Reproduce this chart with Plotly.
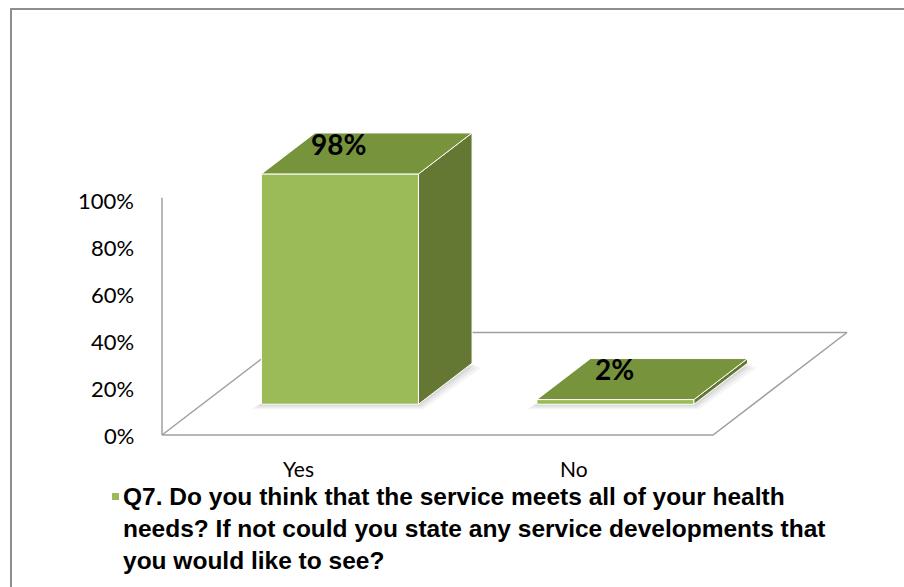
import plotly.graph_objects as go

# ---- data ----
categories = ["Yes", "No"]
values = [0.98, 0.02]
value_labels = ["98%", "2%"]
tick_values = [0, 0.2, 0.4, 0.6, 0.8, 1.0]
tick_labels = ["0%", "20%", "40%", "60%", "80%", "100%"]
legend_lines = [
    "Q7. Do you think that the service meets all of your health",
    "needs? If not could you state any service developments that",
    "you would like to see?",
]

# ---- styling ----
W, H = 904, 587
FRONT = "#9BBB59"
TOP = "#77933C"
SIDE = "#657833"
AXIS_GREY = "#A0A0A0"

# oblique projection: depth d in [0, 1] shifts right and up
DEPTH_X = 0.4864
DEPTH_Y = 0.4362
BAR_W = 0.57
D_FRONT, D_BACK = 0.30, 0.70
N = len(categories)


def proj(x, y, d):
    return x + d * DEPTH_X, y + d * DEPTH_Y


def poly(points, color, line_color="white", width=1.0, opacity=1.0):
    xs, ys = zip(*(proj(*p) for p in points))
    xs = list(xs) + [xs[0]]
    ys = list(ys) + [ys[0]]
    return go.Scatter(x=xs, y=ys, mode="lines", fill="toself", fillcolor=color,
                      line=dict(color=line_color, width=width), opacity=opacity,
                      hoverinfo="skip", showlegend=False)


fig = go.Figure()

# floor outline and the vertical value wall line
floor = [(0, 0, 0), (N, 0, 0), (N, 0, 1), (0, 0, 1), (0, 0, 0)]
fx, fy = zip(*(proj(*p) for p in floor))
fig.add_trace(go.Scatter(x=fx, y=fy, mode="lines", line=dict(color=AXIS_GREY, width=1.5),
                         hoverinfo="skip", showlegend=False))
fig.add_trace(go.Scatter(x=[0, 0], y=[0, 1.01], mode="lines",
                         line=dict(color=AXIS_GREY, width=1.5),
                         hoverinfo="skip", showlegend=False))

# bars as boxes
for i, (cat, v, lab) in enumerate(zip(categories, values, value_labels)):
    c = i + 0.5
    x0, x1 = c - BAR_W / 2, c + BAR_W / 2
    # soft shadow under the front/right base
    for k, op in enumerate([0.10, 0.08, 0.06]):
        s = 0.006 * (k + 1)
        fig.add_trace(poly([(x0 - s * 2, -s * 1.2, D_FRONT), (x1 + s, -s * 1.2, D_FRONT),
                            (x1 + s * 2, -s, D_BACK), (x0, -s, D_BACK)],
                           "#555555", line_color="rgba(0,0,0,0)", width=0, opacity=op))
    # front face
    fig.add_trace(poly([(x0, 0, D_FRONT), (x1, 0, D_FRONT), (x1, v, D_FRONT), (x0, v, D_FRONT)], FRONT))
    # right side face
    fig.add_trace(poly([(x1, 0, D_FRONT), (x1, 0, D_BACK), (x1, v, D_BACK), (x1, v, D_FRONT)], SIDE))
    # top face
    fig.add_trace(poly([(x0, v, D_FRONT), (x1, v, D_FRONT), (x1, v, D_BACK), (x0, v, D_BACK)], TOP))

    # value label on the top face
    lx, _ = proj(c, v, D_FRONT)
    _, ly = proj(c, v, D_FRONT + 0.74 * (D_BACK - D_FRONT))
    fig.add_annotation(x=lx, y=ly, xshift=-1, text=f"<b>{lab}</b>", showarrow=False,
                       font=dict(family="Lato", size=28, color="black"),
                       xanchor="center", yanchor="middle")

    # category label
    fig.add_annotation(x=c, y=0, yshift=-33, xshift=-1, text=cat, showarrow=False,
                       font=dict(family="Lato", size=21, color="black"),
                       xanchor="center", yanchor="middle")

# value-axis tick labels
for tv, tl in zip(tick_values, tick_labels):
    fig.add_annotation(x=0, y=tv, xshift=-26, text=tl, showarrow=False,
                       font=dict(family="Lato", size=22, color="black"),
                       xanchor="right", yanchor="middle")

# legend: marker square plus bold wrapped text
fig.add_shape(type="rect", xref="paper", yref="paper",
              x0=112 / W, x1=119 / W, y0=1 - 500 / H, y1=1 - 493 / H,
              fillcolor=FRONT, line=dict(width=0))
for j, line in enumerate(legend_lines):
    fig.add_annotation(xref="paper", yref="paper", x=121 / W, y=1 - (496 + 32 * j) / H,
                       text=f"<b>{line}</b>", showarrow=False,
                       font=dict(family="Liberation Sans", size=24.5, color="black"),
                       xanchor="left", yanchor="middle")

# chart-area border
fig.add_shape(type="rect", xref="paper", yref="paper",
              x0=11 / W, x1=1.05, y0=-0.05, y1=1 - 9 / H,
              line=dict(color="#8E8E8E", width=2), fillcolor="rgba(0,0,0,0)")

# axes map data units onto the canvas (front plane: 275.5 px per category, 235 px per 100%)
PX_X, PX_Y = 275.5, 235.0
X0, Y0 = 162.0, 435.0
fig.update_xaxes(range=[-X0 / PX_X, (W - X0) / PX_X], visible=False, fixedrange=True)
fig.update_yaxes(range=[-(H - Y0) / PX_Y, Y0 / PX_Y], visible=False, fixedrange=True)
fig.update_layout(width=W, height=H, margin=dict(l=0, r=0, t=0, b=0),
                  paper_bgcolor="white", plot_bgcolor="white", showlegend=False)

fig.write_html("out.html")
